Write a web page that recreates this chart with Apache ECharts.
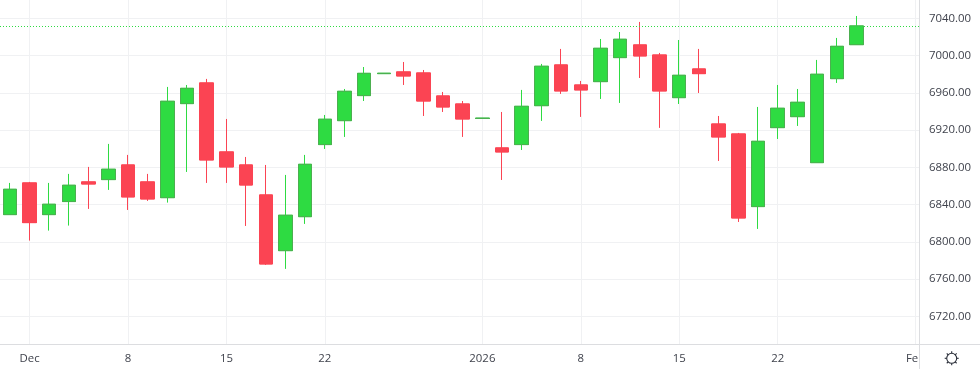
<!DOCTYPE html>
<html><head><meta charset="utf-8">
<style>html,body{margin:0;padding:0;background:#fff}#c{width:980px;height:369px}</style>
<script src="https://cdn.jsdelivr.net/npm/echarts@6/dist/echarts.min.js"></script>
</head><body><div id="c"></div>
<script>
const categories=["2025-11-28","2025-12-01","2025-12-02","2025-12-03","2025-12-04","2025-12-05","2025-12-08","2025-12-09","2025-12-10","2025-12-11","2025-12-12","2025-12-15","2025-12-16","2025-12-17","2025-12-18","2025-12-19","2025-12-22","2025-12-23","2025-12-24","2025-12-25","2025-12-26","2025-12-29","2025-12-30","2025-12-31","2026-01-01","2026-01-02","2026-01-05","2026-01-06","2026-01-07","2026-01-08","2026-01-09","2026-01-12","2026-01-13","2026-01-14","2026-01-15","2026-01-16","2026-01-19","2026-01-20","2026-01-21","2026-01-22","2026-01-23","2026-01-26","2026-01-27","2026-01-28","2026-01-29","2026-01-30","2026-02-02"];
const opens=[6829.2,6863.2,6829.2,6843.2,6864.3,6866.8,6882.5,6864.3,6847.4,6948.4,6970.6,6896.5,6882.5,6850.3,6790.5,6827,6904.4,6930.1,6957,6980.6,6982.4,6981.3,6956.6,6948,6932.4,6900.8,6904.4,6946.2,6989.9,6968.4,6972,6997.8,7011.4,7000.6,6954.8,6985.6,6926.5,6915.8,6837.8,6922.6,6934.4,6885,6975.2,7011.7];
const closes=[6856.4,6820.6,6840.3,6860.7,6862.1,6877.9,6848.2,6846,6950.9,6964.8,6887.9,6880.4,6861,6776.2,6828.5,6883.2,6931.6,6961.6,6980.9,6981,6978.1,6951.2,6944.8,6931.9,6932.8,6896.5,6945.5,6988.5,6962,6963.1,7007.8,7017.5,6999.6,6962,6978.8,6980.6,6912.6,6825.6,6907.9,6943.4,6949.8,6979.9,7009.9,7031.8];
const lows=[6829.2,6801.3,6812,6817.4,6835.3,6855.7,6834.2,6843.9,6842.1,6875,6863.2,6863.2,6817,6775.2,6770.9,6819.2,6899.7,6912.6,6951.2,6980.6,6968.4,6935.1,6939.4,6912.6,6932.4,6866.4,6898.6,6929.8,6958.8,6934.1,6953.4,6949.1,6975.9,6922.3,6948,6959.8,6886.8,6821.3,6813.8,6910.4,6924.4,6885,6970.6,7011.7];
const highs=[6863.2,6864.3,6863.2,6872.9,6880.4,6905.1,6893.3,6872.9,6966.3,6968.4,6974.9,6931.9,6891.1,6882.5,6871.8,6893.3,6936.2,6964.1,6987.7,6981,6993.1,6984.5,6960.9,6951.2,6932.8,6939.4,6963.1,6991,7007.1,6972.7,7017.8,7025.3,7036.1,7002.8,7016.7,7007.1,6935.1,6916.9,6944.8,6968.4,6964.1,6995.3,7018.9,7042.5];
const xTickLabels={"2025-12-01":"Dec","2025-12-08":"8","2025-12-15":"15","2025-12-22":"22","2026-01-01":"2026","2026-01-08":"8","2026-01-15":"15","2026-01-22":"22","2026-02-02":"Feb"};
const yTicks=[6720,6760,6800,6840,6880,6920,6960,7000,7040];
const lastClose=7031.8;

const yMin=6689.7,yMax=7059.65;
const UP='#2edb42',DOWN='#fb4453',UPB='#4caf50',GRID='#f0f1f3',FRAME='#dcdde0',TXT='#3f424c';
const FONT='"Open Sans", Roboto, sans-serif';
const wick=categories.slice(0,opens.length).map((c,i)=>[opens[i],closes[i],lows[i],highs[i]]);
const body=categories.slice(0,opens.length).map((c,i)=>[opens[i],closes[i],Math.min(opens[i],closes[i]),Math.max(opens[i],closes[i])]);
const showTick=(i,v)=>xTickLabels[v]!==undefined;
const sun=[];
for(let a=0;a<8;a++){const t=a*Math.PI/4;sun.push({type:'line',silent:true,z:20,shape:{x1:951.7+Math.cos(t)*5,y1:358.3+Math.sin(t)*5,x2:951.7+Math.cos(t)*7,y2:358.3+Math.sin(t)*7},style:{stroke:'#2a2e39',lineWidth:1.1}});}
const chart=echarts.init(document.getElementById('c'),null,{renderer:'canvas'});
chart.setOption({
  animation:false,backgroundColor:'#fff',
  grid:[
    {left:-0.55,top:0,width:925.9,height:344.5,containLabel:false},
    {left:0,top:0,width:919.5,height:344.5,containLabel:false}
  ],
  xAxis:[
    {gridIndex:0,type:'category',data:categories,boundaryGap:true,
     axisLine:{show:false},
     axisTick:{show:false,alignWithLabel:true,interval:showTick},
     splitLine:{show:true,alignWithLabel:true,interval:showTick,lineStyle:{color:GRID,width:1}},
     axisLabel:{show:true,interval:showTick,formatter:v=>xTickLabels[v]||'',color:TXT,fontFamily:FONT,fontSize:11.4,margin:9,hideOverlap:false}},
    {gridIndex:1,type:'value',show:false,min:0,max:1}
  ],
  yAxis:[
    {gridIndex:0,type:'value',show:false,min:yMin,max:yMax,scale:true,splitLine:{show:false}},
    {gridIndex:1,type:'value',position:'right',min:yMin,max:yMax,scale:true,
     axisLine:{show:false},
     axisTick:{show:false,customValues:yTicks},
     splitLine:{show:true,lineStyle:{color:GRID,width:1}},
     axisLabel:{customValues:yTicks,formatter:v=>v.toFixed(2),color:TXT,fontFamily:FONT,fontSize:11.4,margin:9.5,align:'left',padding:[2,0,0,0]}}
  ],
  series:[
    {type:'candlestick',xAxisIndex:0,yAxisIndex:0,barWidth:14,data:wick,z:3,
     itemStyle:{color:UP,color0:DOWN,borderColor:UP,borderColor0:DOWN,borderWidth:1}},
    {type:'candlestick',xAxisIndex:0,yAxisIndex:0,barWidth:14,data:body,z:4,
     itemStyle:{color:UP,color0:DOWN,borderColor:UPB,borderColor0:DOWN,borderWidth:1}},
    {type:'line',xAxisIndex:1,yAxisIndex:1,data:[],symbol:'none',z:5,
     markLine:{silent:true,symbol:'none',label:{show:false},
       lineStyle:{color:UP,type:[1,2],width:1},data:[{yAxis:lastClose}]}}
  ],
  graphic:[
    {type:'rect',silent:true,z:10,shape:{x:920,y:345,width:16,height:24},style:{fill:'#fff'}},
    {type:'line',silent:true,z:11,shape:{x1:919.5,y1:0,x2:919.5,y2:369},style:{stroke:FRAME,lineWidth:1}},
    {type:'line',silent:true,z:11,shape:{x1:0,y1:344.5,x2:980,y2:344.5},style:{stroke:FRAME,lineWidth:1}},
    {type:'circle',silent:true,z:20,shape:{cx:951.7,cy:358.3,r:5},style:{fill:'none',stroke:'#2a2e39',lineWidth:1.1}},
    ...sun
  ]
});
</script></body></html>
